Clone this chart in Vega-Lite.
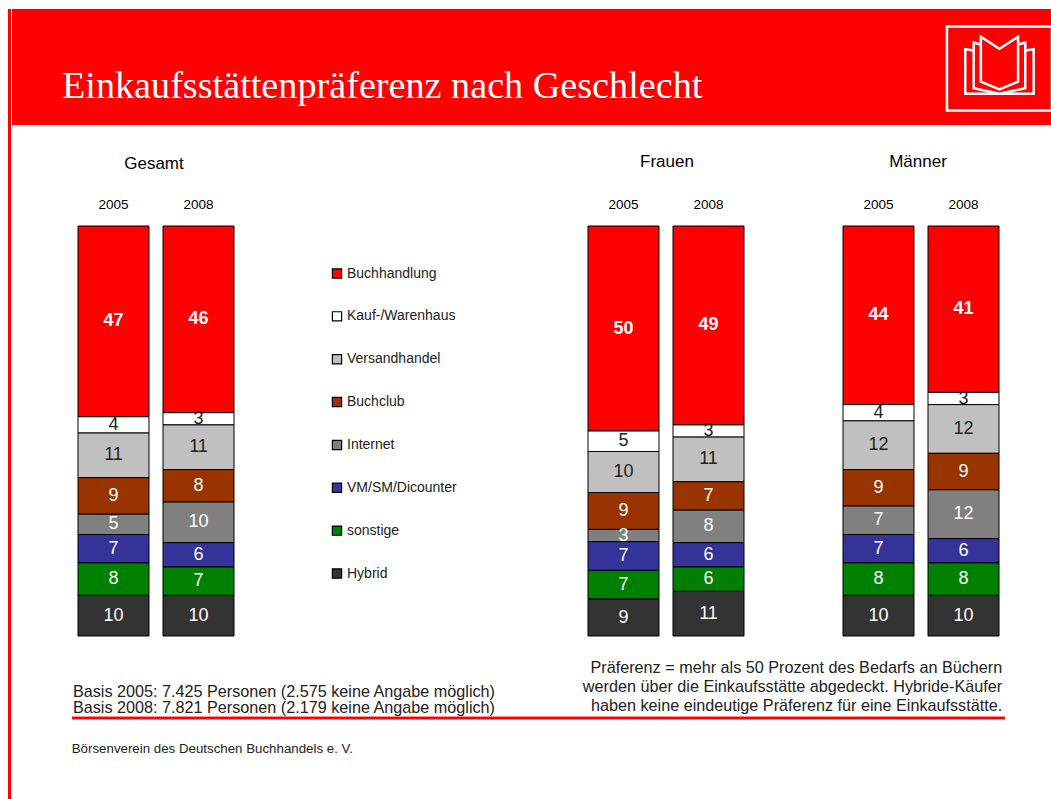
{
"$schema":"https://vega.github.io/schema/vega-lite/v6.json",
"padding":{"left":7,"top":8,"right":0,"bottom":0},
"background":"white",
"config":{"view":{"stroke":null},"font":"Liberation Sans"},
"datasets":{
"shares":[
{"group":"Gesamt","year":"2005","segment":"Buchhandlung","rank":8,"share":47},
{"group":"Gesamt","year":"2005","segment":"Kauf-/Warenhaus","rank":7,"share":4},
{"group":"Gesamt","year":"2005","segment":"Versandhandel","rank":6,"share":11},
{"group":"Gesamt","year":"2005","segment":"Buchclub","rank":5,"share":9},
{"group":"Gesamt","year":"2005","segment":"Internet","rank":4,"share":5},
{"group":"Gesamt","year":"2005","segment":"VM/SM/Dicounter","rank":3,"share":7},
{"group":"Gesamt","year":"2005","segment":"sonstige","rank":2,"share":8},
{"group":"Gesamt","year":"2005","segment":"Hybrid","rank":1,"share":10},
{"group":"Gesamt","year":"2008","segment":"Buchhandlung","rank":8,"share":46},
{"group":"Gesamt","year":"2008","segment":"Kauf-/Warenhaus","rank":7,"share":3},
{"group":"Gesamt","year":"2008","segment":"Versandhandel","rank":6,"share":11},
{"group":"Gesamt","year":"2008","segment":"Buchclub","rank":5,"share":8},
{"group":"Gesamt","year":"2008","segment":"Internet","rank":4,"share":10},
{"group":"Gesamt","year":"2008","segment":"VM/SM/Dicounter","rank":3,"share":6},
{"group":"Gesamt","year":"2008","segment":"sonstige","rank":2,"share":7},
{"group":"Gesamt","year":"2008","segment":"Hybrid","rank":1,"share":10},
{"group":"Frauen","year":"2005","segment":"Buchhandlung","rank":8,"share":50},
{"group":"Frauen","year":"2005","segment":"Kauf-/Warenhaus","rank":7,"share":5},
{"group":"Frauen","year":"2005","segment":"Versandhandel","rank":6,"share":10},
{"group":"Frauen","year":"2005","segment":"Buchclub","rank":5,"share":9},
{"group":"Frauen","year":"2005","segment":"Internet","rank":4,"share":3},
{"group":"Frauen","year":"2005","segment":"VM/SM/Dicounter","rank":3,"share":7},
{"group":"Frauen","year":"2005","segment":"sonstige","rank":2,"share":7},
{"group":"Frauen","year":"2005","segment":"Hybrid","rank":1,"share":9},
{"group":"Frauen","year":"2008","segment":"Buchhandlung","rank":8,"share":49},
{"group":"Frauen","year":"2008","segment":"Kauf-/Warenhaus","rank":7,"share":3},
{"group":"Frauen","year":"2008","segment":"Versandhandel","rank":6,"share":11},
{"group":"Frauen","year":"2008","segment":"Buchclub","rank":5,"share":7},
{"group":"Frauen","year":"2008","segment":"Internet","rank":4,"share":8},
{"group":"Frauen","year":"2008","segment":"VM/SM/Dicounter","rank":3,"share":6},
{"group":"Frauen","year":"2008","segment":"sonstige","rank":2,"share":6},
{"group":"Frauen","year":"2008","segment":"Hybrid","rank":1,"share":11},
{"group":"Männer","year":"2005","segment":"Buchhandlung","rank":8,"share":44},
{"group":"Männer","year":"2005","segment":"Kauf-/Warenhaus","rank":7,"share":4},
{"group":"Männer","year":"2005","segment":"Versandhandel","rank":6,"share":12},
{"group":"Männer","year":"2005","segment":"Buchclub","rank":5,"share":9},
{"group":"Männer","year":"2005","segment":"Internet","rank":4,"share":7},
{"group":"Männer","year":"2005","segment":"VM/SM/Dicounter","rank":3,"share":7},
{"group":"Männer","year":"2005","segment":"sonstige","rank":2,"share":8},
{"group":"Männer","year":"2005","segment":"Hybrid","rank":1,"share":10},
{"group":"Männer","year":"2008","segment":"Buchhandlung","rank":8,"share":41},
{"group":"Männer","year":"2008","segment":"Kauf-/Warenhaus","rank":7,"share":3},
{"group":"Männer","year":"2008","segment":"Versandhandel","rank":6,"share":12},
{"group":"Männer","year":"2008","segment":"Buchclub","rank":5,"share":9},
{"group":"Männer","year":"2008","segment":"Internet","rank":4,"share":12},
{"group":"Männer","year":"2008","segment":"VM/SM/Dicounter","rank":3,"share":6},
{"group":"Männer","year":"2008","segment":"sonstige","rank":2,"share":8},
{"group":"Männer","year":"2008","segment":"Hybrid","rank":1,"share":10}
],
"notes":[
{"side":"left","note":"Basis 2005: 7.425 Personen (2.575 keine Angabe möglich)\nBasis 2008: 7.821 Personen (2.179 keine Angabe möglich)"},
{"side":"right","note":"Präferenz = mehr als 50 Prozent des Bedarfs an Büchern\nwerden über die Einkaufsstätte abgedeckt. Hybride-Käufer\nhaben keine eindeutige Präferenz für eine Einkaufsstätte."}
]
},
"spacing":0,
"hconcat":[
{"width":3,"height":790,"view":{"fill":"#ff0000","stroke":null},"data":{"values":[{}]},"mark":{"type":"rule","opacity":0},"encoding":{}},
{"spacing":0,"vconcat":[
{"width":1039,"height":116,"view":{"fill":"#ff0000","stroke":null},
 "data":{"values":[{"heading":"Einkaufsstättenpräferenz nach Geschlecht"}]},
 "layer":[
  {"mark":{"type":"text","align":"left","baseline":"alphabetic","font":"Liberation Serif","fontSize":38.2,"color":"white"},
   "encoding":{"text":{"field":"heading"},
    "x":{"datum":0.0481,"type":"quantitative","scale":{"domain":[0,1]},"axis":null},
    "y":{"datum":0.233,"type":"quantitative","scale":{"domain":[0,1]},"axis":null}}},
  {"mark":{"type":"point","filled":false,"stroke":"white","strokeWidth":2.5,"opacity":1,"size":14400,
    "shape":"M-0.875,-0.7L0.875,-0.7L0.875,0.7L-0.875,0.7ZM-0.31,-0.53L0,-0.33L0.31,-0.53L0.31,0.22L0,0.35L-0.31,0.22ZM-0.31,-0.40L-0.43,-0.43L-0.43,0.33L0,0.42L0.43,0.33L0.43,-0.43L0.31,-0.40M-0.43,-0.30L-0.57,-0.32L-0.57,0.42L0.57,0.42L0.57,-0.32L0.43,-0.30"},
   "encoding":{
    "x":{"datum":0.9504,"type":"quantitative","scale":{"domain":[0,1]},"axis":null},
    "y":{"datum":0.487,"type":"quantitative","scale":{"domain":[0,1]},"axis":null}}}
 ]},
{"width":10,"height":27,"data":{"values":[{}]},"mark":{"type":"rule","opacity":0},"encoding":{}},
{"spacing":0,"hconcat":[
 {"width":65,"height":10,"data":{"values":[{}]},"mark":{"type":"rule","opacity":0},"encoding":{}},
 {"spacing":94,"hconcat":[
  {"width":156,"height":410,
   "title":{"text":"Gesamt","fontSize":17,"fontWeight":"normal","offset":24,"anchor":"middle","dx":-2},
   "data":{"name":"shares"},
   "transform":[{"filter":"datum.group==='Gesamt'"},
    {"stack":"share","groupby":["year"],"sort":[{"field":"rank","order":"ascending"}],"offset":"normalize","as":["lo","hi"]},
    {"calculate":"(datum.lo+datum.hi)/2","as":"mid"}],
   "encoding":{"x":{"field":"year","type":"ordinal","scale":{"paddingInner":0.165,"paddingOuter":0},
      "axis":{"orient":"top","title":null,"domain":false,"ticks":false,"labelAngle":0,"labelFontSize":13.5,"labelPadding":15,"labelColor":"black"}}},
   "layer":[
    {"mark":{"type":"bar","stroke":"black","strokeWidth":1},
     "encoding":{"y":{"field":"lo","type":"quantitative","scale":{"domain":[0,1]},"axis":null},"y2":{"field":"hi"},
      "color":{"field":"segment","type":"nominal","legend":null,
       "scale":{"domain":["Buchhandlung","Kauf-/Warenhaus","Versandhandel","Buchclub","Internet","VM/SM/Dicounter","sonstige","Hybrid"],"range":["#ff0000","#ffffff","#c0c0c0","#993300","#808080","#333399","#008000","#333333"]}}}},
    {"transform":[{"filter":"datum.segment!=='Buchhandlung'"}],
     "mark":{"type":"text","fontSize":18,"baseline":"middle"},
     "encoding":{"y":{"field":"mid","type":"quantitative","scale":{"domain":[0,1]},"axis":null},"text":{"field":"share","type":"quantitative"},
      "color":{"condition":{"test":"datum.segment==='Kauf-/Warenhaus'||datum.segment==='Versandhandel'","value":"#222222"},"value":"white"}}},
    {"transform":[{"filter":"datum.segment==='Buchhandlung'"}],
     "mark":{"type":"text","fontSize":18,"fontWeight":"bold","baseline":"middle","color":"white"},
     "encoding":{"y":{"field":"mid","type":"quantitative","scale":{"domain":[0,1]},"axis":null},"text":{"field":"share","type":"quantitative"}}}
   ]},
  {"width":163,"height":410,
   "data":{"name":"shares"},
   "transform":[{"filter":"datum.group==='Gesamt'&&datum.year==='2005'"}],
   "encoding":{"y":{"field":"segment","type":"ordinal","axis":null,"scale":{"type":"point","padding":0,"range":[47.5,347.5],"domain":["Buchhandlung","Kauf-/Warenhaus","Versandhandel","Buchclub","Internet","VM/SM/Dicounter","sonstige","Hybrid"]}}},
   "layer":[
    {"mark":{"type":"square","size":85,"stroke":"black","strokeWidth":1.2,"opacity":1},
     "encoding":{"x":{"datum":0.0429,"type":"quantitative","scale":{"domain":[0,1]},"axis":null},
      "color":{"field":"segment","type":"nominal","legend":null,
       "scale":{"domain":["Buchhandlung","Kauf-/Warenhaus","Versandhandel","Buchclub","Internet","VM/SM/Dicounter","sonstige","Hybrid"],"range":["#ff0000","#ffffff","#c0c0c0","#993300","#808080","#333399","#008000","#333333"]}}}},
    {"mark":{"type":"text","align":"left","baseline":"middle","fontSize":14,"color":"#222222"},
     "encoding":{"x":{"datum":0.1043,"type":"quantitative","scale":{"domain":[0,1]},"axis":null},"text":{"field":"segment"}}}
   ]},
  {"width":160,"height":410,
   "title":{"text":"Frauen","fontSize":17,"fontWeight":"normal","offset":24,"anchor":"middle","dx":-1,"dy":-2},
   "data":{"name":"shares"},
   "transform":[{"filter":"datum.group==='Frauen'"},
    {"stack":"share","groupby":["year"],"sort":[{"field":"rank","order":"ascending"}],"offset":"normalize","as":["lo","hi"]},
    {"calculate":"(datum.lo+datum.hi)/2","as":"mid"}],
   "encoding":{"x":{"field":"year","type":"ordinal","scale":{"paddingInner":0.165,"paddingOuter":0,"range":[0,156]},
      "axis":{"orient":"top","title":null,"domain":false,"ticks":false,"labelAngle":0,"labelFontSize":13.5,"labelPadding":15,"labelColor":"black"}}},
   "layer":[
    {"mark":{"type":"bar","stroke":"black","strokeWidth":1},
     "encoding":{"y":{"field":"lo","type":"quantitative","scale":{"domain":[0,1]},"axis":null},"y2":{"field":"hi"},
      "color":{"field":"segment","type":"nominal","legend":null,
       "scale":{"domain":["Buchhandlung","Kauf-/Warenhaus","Versandhandel","Buchclub","Internet","VM/SM/Dicounter","sonstige","Hybrid"],"range":["#ff0000","#ffffff","#c0c0c0","#993300","#808080","#333399","#008000","#333333"]}}}},
    {"transform":[{"filter":"datum.segment!=='Buchhandlung'"}],
     "mark":{"type":"text","fontSize":18,"baseline":"middle"},
     "encoding":{"y":{"field":"mid","type":"quantitative","scale":{"domain":[0,1]},"axis":null},"text":{"field":"share","type":"quantitative"},
      "color":{"condition":{"test":"datum.segment==='Kauf-/Warenhaus'||datum.segment==='Versandhandel'","value":"#222222"},"value":"white"}}},
    {"transform":[{"filter":"datum.segment==='Buchhandlung'"}],
     "mark":{"type":"text","fontSize":18,"fontWeight":"bold","baseline":"middle","color":"white"},
     "encoding":{"y":{"field":"mid","type":"quantitative","scale":{"domain":[0,1]},"axis":null},"text":{"field":"share","type":"quantitative"}}}
   ]},
  {"width":156,"height":410,
   "title":{"text":"Männer","fontSize":17,"fontWeight":"normal","offset":24,"anchor":"middle","dx":-3,"dy":-2},
   "data":{"name":"shares"},
   "transform":[{"filter":"datum.group==='Männer'"},
    {"stack":"share","groupby":["year"],"sort":[{"field":"rank","order":"ascending"}],"offset":"normalize","as":["lo","hi"]},
    {"calculate":"(datum.lo+datum.hi)/2","as":"mid"}],
   "encoding":{"x":{"field":"year","type":"ordinal","scale":{"paddingInner":0.165,"paddingOuter":0},
      "axis":{"orient":"top","title":null,"domain":false,"ticks":false,"labelAngle":0,"labelFontSize":13.5,"labelPadding":15,"labelColor":"black"}}},
   "layer":[
    {"mark":{"type":"bar","stroke":"black","strokeWidth":1},
     "encoding":{"y":{"field":"lo","type":"quantitative","scale":{"domain":[0,1]},"axis":null},"y2":{"field":"hi"},
      "color":{"field":"segment","type":"nominal","legend":null,
       "scale":{"domain":["Buchhandlung","Kauf-/Warenhaus","Versandhandel","Buchclub","Internet","VM/SM/Dicounter","sonstige","Hybrid"],"range":["#ff0000","#ffffff","#c0c0c0","#993300","#808080","#333399","#008000","#333333"]}}}},
    {"transform":[{"filter":"datum.segment!=='Buchhandlung'"}],
     "mark":{"type":"text","fontSize":18,"baseline":"middle"},
     "encoding":{"y":{"field":"mid","type":"quantitative","scale":{"domain":[0,1]},"axis":null},"text":{"field":"share","type":"quantitative"},
      "color":{"condition":{"test":"datum.segment==='Kauf-/Warenhaus'||datum.segment==='Versandhandel'","value":"#222222"},"value":"white"}}},
    {"transform":[{"filter":"datum.segment==='Buchhandlung'"}],
     "mark":{"type":"text","fontSize":18,"fontWeight":"bold","baseline":"middle","color":"white"},
     "encoding":{"y":{"field":"mid","type":"quantitative","scale":{"domain":[0,1]},"axis":null},"text":{"field":"share","type":"quantitative"}}}
   ]}
 ]}
]},
{"width":10,"height":19,"data":{"values":[{}]},"mark":{"type":"rule","opacity":0},"encoding":{}},
{"spacing":0,"hconcat":[
 {"width":58,"height":10,"data":{"values":[{}]},"mark":{"type":"rule","opacity":0},"encoding":{}},
 {"width":933,"height":60,
  "title":{"text":"Börsenverein des Deutschen Buchhandels e. V.","orient":"bottom","anchor":"start","fontSize":13.3,"fontWeight":"normal","offset":23,"dx":1,"color":"#222222"},
  "data":{"name":"notes"},
  "layer":[
   {"mark":{"type":"rule","color":"#ff0000","strokeWidth":2.5},"encoding":{"y":{"datum":0,"type":"quantitative","scale":{"domain":[0,1]},"axis":null}}},
   {"transform":[{"filter":"datum.side==='left'"}],
    "mark":{"type":"text","align":"left","baseline":"top","fontSize":16.2,"lineBreak":"\n","lineHeight":16,"color":"#222222"},
    "encoding":{"text":{"field":"note"},
     "x":{"datum":0.001,"type":"quantitative","scale":{"domain":[0,1]},"axis":null},
     "y":{"datum":0.567,"type":"quantitative","scale":{"domain":[0,1]},"axis":null}}},
   {"transform":[{"filter":"datum.side==='right'"}],
    "mark":{"type":"text","align":"right","baseline":"top","fontSize":16.2,"lineBreak":"\n","lineHeight":19,"color":"#222222"},
    "encoding":{"text":{"field":"note"},
     "x":{"datum":0.997,"type":"quantitative","scale":{"domain":[0,1]},"axis":null},
     "y":{"datum":0.967,"type":"quantitative","scale":{"domain":[0,1]},"axis":null}}}
  ]}
]}
]}
]
}
